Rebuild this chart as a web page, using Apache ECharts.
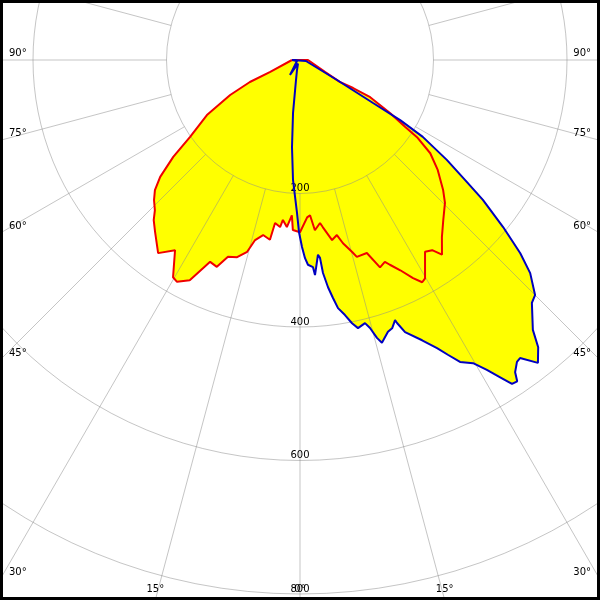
<!DOCTYPE html>
<html><head><meta charset="utf-8">
<script src="https://cdn.jsdelivr.net/npm/echarts@6/dist/echarts.min.js"></script>
<style>html,body{margin:0;padding:0;background:#fff}#c{width:600px;height:600px}</style>
</head><body><div id="c"></div>
<script>
// radial grid (cd) and angle labels (degrees, negative = left side)
const radiusTicks = [200, 400, 600, 800];
const angleLabelValues = [-90, -75, -60, -45, -30, -15, 0, 15, 30, 45, 60, 75, 90];

// red curve (C0-C180 plane) : gamma angle (deg) / intensity (cd)
const redAngles = [-90, -68.2, -66.3, -63.4, -59.4, -55.0, -52.6, -50.1, -48.1, -46.2, -44.0, -42.4, -40.1, -36.3, -33.3, -30.3, -29.0, -26.6, -24.0, -21.9, -20.1, -17.7, -15.4, -14.0, -11.9, -9.5, -8.7, -6.8, -6.1, -4.5, -3.0, -2.4, 0, 2.6, 3.7, 5.0, 7.0, 7.8, 10.1, 11.9, 13.2, 15.2, 16.1, 19.1, 21.1, 22.8, 23.7, 25.5, 27.4, 28.8, 29.8, 33.1, 34.8, 36.1, 38.7, 41.8, 45.4, 47.7, 51.4, 54.4, 56.6, 57.5, 59.5, 62.1, 62.2, 61.2, 64.4, 90];
const redValues = [12, 48, 82, 117, 162, 201, 239, 273, 292, 303, 313, 325, 337, 359, 341, 377, 380, 369, 331, 334, 314, 310, 298, 278, 268, 273, 247, 252, 241, 251, 233, 255, 258, 236, 233, 256, 246, 253, 274, 268, 282, 298, 307, 306, 333, 328, 335, 349, 368, 380, 377, 343, 347, 361, 340, 322, 305, 290, 264, 240, 210, 187, 157, 119, 90, 68, 42, 12];

// blue curve (C90-C270 plane)
const blueAngles = [-90, -71.6, -33.7, -29.7, -16.7, -11.3, -7.5, -5.25, -3.34, -1.12, -0.33, 0.61, 1.45, 2.23, 3.59, 3.99, 5.27, 5.77, 6.16, 7.03, 7.89, 8.71, 10.0, 11.18, 12.21, 13.88, 14.64, 15.48, 16.16, 17.93, 18.95, 20.07, 20.25, 21.11, 23.54, 25.44, 26.64, 27.92, 29.72, 31.10, 32.25, 33.20, 34.06, 34.57, 35.70, 36.44, 38.15, 39.67, 40.79, 43.68, 45.0, 47.20, 48.74, 50.56, 52.58, 53.97, 55.77, 57.95, 59.04, 59.50, 61.6, 80.5, 90];
const blueValues = [12, 4.7, 27, 6, 15.6, 30.6, 80, 131, 180, 229, 258, 280, 297, 307, 311, 323, 293, 298, 321, 343, 360, 376, 388, 402, 411, 406, 415, 432, 441, 428, 425, 415, 420, 437, 458, 478, 494, 512, 523, 542, 562, 580, 581, 568, 557, 555, 577, 559, 534, 503, 498, 470, 439, 394, 345, 306, 266, 217, 175, 127, 63, 9, 9];

const GRID = 'rgba(140,140,140,0.5)';
const FONT = '"DejaVu Sans", sans-serif';

function pairs(vals, angs) {
  const d = vals.map((v, i) => [v, angs[i]]);
  d.push(d[0]);
  return d;
}
const redData = pairs(redValues, redAngles);
const blueData = pairs(blueValues, blueAngles);

const chart = echarts.init(document.getElementById('c'), null, {renderer: 'canvas'});

function lineSeries(data, color, z, fill) {
  return {
    type: 'line', coordinateSystem: 'polar', polarIndex: 1,
    data: data, showSymbol: false, symbol: 'none', clip: false, silent: true,
    z: z,
    lineStyle: fill ? {width: 0, opacity: 0} : {color: color, width: 2},
    areaStyle: fill ? {color: '#ffff00', opacity: 1} : undefined
  };
}

const option = {
  animation: false,
  backgroundColor: '#ffffff',
  polar: [
    {center: [300, 60], radius: [133.5, 667.5]},
    {center: [300, 60], radius: [0, 667.5]}
  ],
  angleAxis: [
    {polarIndex: 0, type: 'value', min: 0, max: 360, interval: 15, startAngle: 270, clockwise: false, z: 2,
     axisLine: {show: false}, axisTick: {show: false}, axisLabel: {show: false},
     splitLine: {show: true, lineStyle: {color: GRID, width: 1}}},
    {polarIndex: 1, type: 'value', min: -180, max: 180, startAngle: 90, clockwise: false, show: false}
  ],
  radiusAxis: [
    {polarIndex: 0, type: 'value', min: 200, max: 1000, interval: 200, z: 2,
     axisLine: {show: false}, axisTick: {show: false},
     axisLabel: {show: true, margin: 0, align: 'center', verticalAlign: 'bottom', color: '#000',
       fontSize: 10, fontFamily: FONT,
       formatter: v => radiusTicks.indexOf(v) >= 0 ? String(v) : ''},
     splitLine: {show: true, lineStyle: {color: GRID, width: 1}}},
    {polarIndex: 1, type: 'value', min: 0, max: 1000, show: false}
  ],
  series: [
    lineSeries(redData, null, 1, true),
    lineSeries(blueData, null, 1, true),
    lineSeries(redData, '#f00000', 3, false),
    lineSeries(blueData, '#0000c0', 4, false)
  ]
};
chart.setOption(option);

// angle labels placed where each ray leaves the frame
const W = 600, H = 600;
const c0 = chart.convertToPixel({seriesIndex: 0}, [0, 0]);
const graphics = [];
angleLabelValues.forEach(a => {
  const p = chart.convertToPixel({seriesIndex: 0}, [1000, a]);
  const dx = p[0] - c0[0], dy = p[1] - c0[1];
  let t = Infinity, side = null;
  if (dx < -1e-6) { const tt = (0 - c0[0]) / dx; if (tt < t) { t = tt; side = 'left'; } }
  if (dx > 1e-6) { const tt = (W - c0[0]) / dx; if (tt < t) { t = tt; side = 'right'; } }
  if (dy > 1e-6) { const tt = (H - c0[1]) / dy; if (tt < t) { t = tt; side = 'bottom'; } }
  const hx = c0[0] + dx * t, hy = c0[1] + dy * t;
  const txt = Math.abs(a) + '°';
  let st;
  if (side === 'left') st = {x: 9, y: hy - 2, align: 'left'};
  else if (side === 'right') st = {x: W - 9, y: hy - 2, align: 'right'};
  else st = {x: hx, y: H - 6, align: 'center'};
  graphics.push({type: 'text', z: 10, silent: true,
    style: {text: txt, x: st.x, y: st.y, align: st.align, verticalAlign: 'bottom',
      fill: '#000', font: '10px ' + FONT}});
});
graphics.push({type: 'rect', z: 20, silent: true,
  shape: {x: 1.5, y: 1.5, width: 597, height: 597},
  style: {fill: 'none', stroke: '#000', lineWidth: 3}});
chart.setOption({graphic: graphics});
</script>
</body></html>
